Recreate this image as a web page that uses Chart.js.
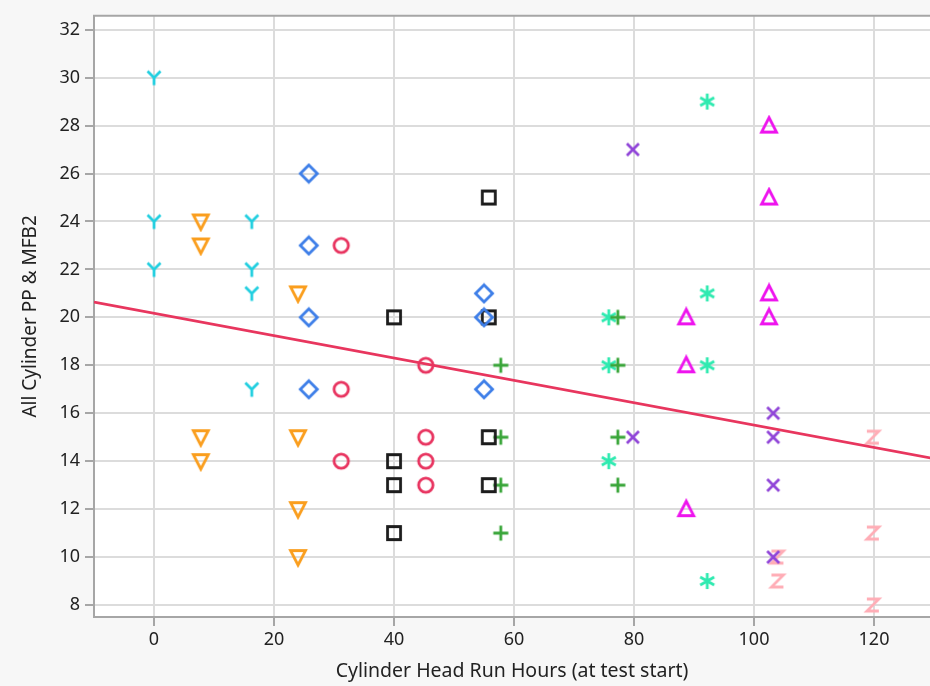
<!DOCTYPE html>
<html>
<head>
<meta charset="utf-8">
<script src="https://cdn.jsdelivr.net/npm/chart.js@4.4.0/dist/chart.umd.min.js"></script>
<style>
    html, body { margin: 0; padding: 0; background: #f7f7f7; }
    #wrap { width: 930px; height: 686px; overflow: hidden; }
</style>
</head>
<body>
<div id="wrap"><canvas id="myChart" width="930" height="686"></canvas></div>
<script>
'use strict';

// tick labels
let xTicks = [0, 20, 40, 60, 80, 100, 120];
let yTicks = [8, 10, 12, 14, 16, 18, 20, 22, 24, 26, 28, 30, 32];

// points per group, [run hours, value]
let cyanY = [[0, 30], [0, 24], [0, 22], [16.3, 24], [16.3, 22], [16.3, 21], [16.3, 17]];
let orangeDown = [[7.8, 24], [7.8, 23], [7.8, 15], [7.8, 14], [24, 21], [24, 15], [24, 12], [24, 10]];
let blueDiamond = [[25.8, 26], [25.8, 23], [25.8, 20], [25.8, 17], [55, 21], [55, 20], [55, 17]];
let redCircle = [[31.2, 23], [31.2, 17], [31.2, 14], [45.3, 18], [45.3, 15], [45.3, 14], [45.3, 13]];
let blackSquare = [[40, 20], [40, 14], [40, 13], [40, 11], [55.8, 25], [55.8, 20], [55.8, 15], [55.8, 13]];
let greenPlus = [[57.8, 18], [57.8, 15], [57.8, 13], [57.8, 11], [77.3, 20], [77.3, 18], [77.3, 15], [77.3, 13]];
let tealStar = [[75.8, 20], [75.8, 18], [75.8, 14], [92.2, 29], [92.2, 21], [92.2, 18], [92.2, 9]];
let purpleX = [[79.8, 27], [79.8, 15], [103.2, 16], [103.2, 15], [103.2, 13], [103.2, 10]];
let magentaUp = [[88.7, 20], [88.7, 18], [88.7, 12], [102.5, 28], [102.5, 25], [102.5, 21], [102.5, 20]];
let pinkZ = [[103.9, 10], [103.9, 9], [119.8, 15], [119.8, 11], [119.8, 8]];

// fit line ends
let fitLine = [[-10, 20.64], [130, 14.11]];

const FONT = '"Noto Sans", "Open Sans", sans-serif';

function makeMarker(kind, color) {
    let c = document.createElement('canvas');
    c.width = 22;
    c.height = 22;
    let g = c.getContext('2d');
    g.strokeStyle = color;
    g.lineWidth = 2.8;
    g.lineJoin = 'miter';
    g.beginPath();
    if (kind === 'square') {
        g.rect(4.5, 4.5, 13, 13);
    } else if (kind === 'diamond') {
        g.moveTo(11, 2.5); g.lineTo(19.5, 11); g.lineTo(11, 19.5); g.lineTo(2.5, 11); g.closePath();
    } else if (kind === 'circle') {
        g.arc(11, 11, 7.2, 0, Math.PI * 2);
    } else if (kind === 'up') {
        g.moveTo(11, 3); g.lineTo(18.5, 17.5); g.lineTo(3.5, 17.5); g.closePath();
    } else if (kind === 'down') {
        g.moveTo(3.5, 4.5); g.lineTo(18.5, 4.5); g.lineTo(11, 19); g.closePath();
    } else if (kind === 'plus') {
        g.moveTo(11, 3.5); g.lineTo(11, 18.5); g.moveTo(3.5, 11); g.lineTo(18.5, 11);
    } else if (kind === 'x') {
        g.moveTo(5, 5); g.lineTo(17, 17); g.moveTo(17, 5); g.lineTo(5, 17);
    } else if (kind === 'star') {
        g.moveTo(11, 3); g.lineTo(11, 19);
        g.moveTo(4, 7); g.lineTo(18, 15);
        g.moveTo(18, 7); g.lineTo(4, 15);
    } else if (kind === 'Y') {
        g.moveTo(4.5, 4.5); g.lineTo(11, 11); g.lineTo(17.5, 4.5);
        g.moveTo(11, 11); g.lineTo(11, 18.5);
    } else if (kind === 'Z') {
        g.moveTo(5, 5); g.lineTo(17, 5); g.lineTo(5, 17); g.lineTo(17, 17);
    }
    g.stroke();
    return c;
}

function toPoints(arr) {
    return arr.map(p => ({ x: p[0], y: p[1] }));
}

function scatterSet(name, arr, kind, color) {
    return {
        type: 'scatter',
        label: name,
        data: toPoints(arr),
        pointStyle: makeMarker(kind, color),
        pointRadius: 11,
        pointHoverRadius: 11,
        borderColor: color,
        backgroundColor: color
    };
}

const bgPlugin = {
    id: 'bgPlugin',
    beforeDraw(chart) {
        let ctx = chart.ctx;
        let a = chart.chartArea;
        ctx.save();
        ctx.fillStyle = '#f7f7f7';
        ctx.fillRect(0, 0, chart.width, chart.height);
        ctx.fillStyle = '#ffffff';
        ctx.fillRect(a.left, a.top, a.right - a.left, a.bottom - a.top);
        ctx.restore();
    },
    beforeDatasetsDraw(chart) {
        let ctx = chart.ctx;
        let a = chart.chartArea;
        ctx.save();
        ctx.strokeStyle = '#a6a6a6';
        ctx.lineWidth = 2;
        ctx.beginPath();
        ctx.moveTo(a.right + 2, a.top);
        ctx.lineTo(a.left, a.top);
        ctx.lineTo(a.left, a.bottom);
        ctx.lineTo(a.right + 2, a.bottom);
        ctx.stroke();
        ctx.restore();
    }
};

let ctx = document.getElementById('myChart').getContext('2d');
let myChart = new Chart(ctx, {
    data: {
        datasets: [
            {
                type: 'line',
                label: 'fit',
                data: toPoints(fitLine),
                borderColor: '#e8365e',
                borderWidth: 2.8,
                pointRadius: 0,
                fill: false
            },
            scatterSet('Y', cyanY, 'Y', '#22cfe0'),
            scatterSet('down', orangeDown, 'down', '#fa9e1e'),
            scatterSet('diamond', blueDiamond, 'diamond', '#3d7ee8'),
            scatterSet('circle', redCircle, 'circle', '#e8335f'),
            scatterSet('square', blackSquare, 'square', '#1c1c1c'),
            scatterSet('plus', greenPlus, 'plus', '#3aa63a'),
            scatterSet('star', tealStar, 'star', '#2eeab0'),
            scatterSet('x', purpleX, 'x', '#9045d8'),
            scatterSet('up', magentaUp, 'up', '#ee14ee'),
            scatterSet('Z', pinkZ, 'Z', '#ffadb6')
        ]
    },
    options: {
        responsive: false,
        animation: false,
        devicePixelRatio: 1,
        layout: { autoPadding: false, padding: { top: 15, right: 0, left: 0, bottom: 0 } },
        plugins: {
            legend: { display: false },
            tooltip: { enabled: false }
        },
        scales: {
            x: {
                type: 'linear',
                min: -10,
                max: 129.33,
                afterBuildTicks: s => { s.ticks = xTicks.map(v => ({ value: v })); },
                afterFit: s => {
                    s.height = 69;
                    s.paddingLeft = 0;
                    s.paddingRight = 0;
                },
                border: { display: false },
                grid: { color: '#dcdcdc', lineWidth: 2, tickLength: 9, tickColor: '#a6a6a6' },
                ticks: { color: '#222', font: { family: FONT, size: 18 }, padding: 3, maxRotation: 0 },
                title: {
                    display: true,
                    text: 'Cylinder Head Run Hours (at test start)',
                    color: '#222',
                    font: { family: FONT, size: 19.5 },
                    padding: { top: 0, bottom: 3 }
                }
            },
            y: {
                type: 'linear',
                min: 7.5,
                max: 32.58,
                afterBuildTicks: s => { s.ticks = yTicks.map(v => ({ value: v })); },
                afterFit: s => { s.width = 94; },
                border: { display: false },
                grid: { color: '#dcdcdc', lineWidth: 2, tickLength: 9, tickColor: '#a6a6a6' },
                ticks: { color: '#222', font: { family: FONT, size: 18 }, padding: 5 },
                title: {
                    display: true,
                    text: 'All Cylinder PP & MFB2',
                    color: '#222',
                    font: { family: FONT, size: 19 },
                    padding: { top: 19, bottom: 0 }
                }
            }
        }
    },
    plugins: [bgPlugin]
});
</script>
</body>
</html>
